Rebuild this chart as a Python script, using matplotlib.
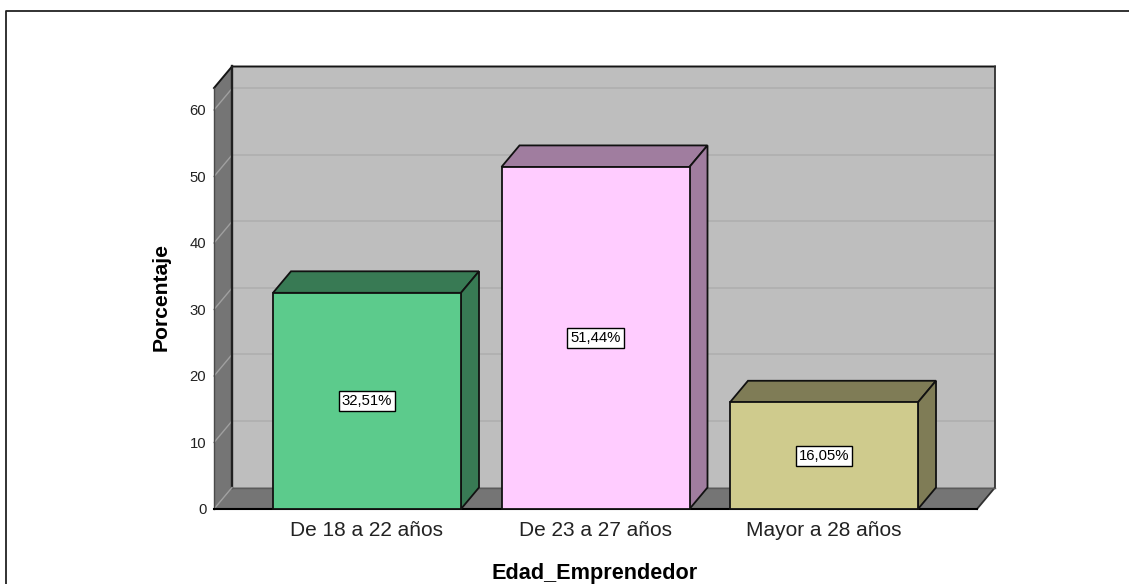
import matplotlib
matplotlib.use("Agg")
import matplotlib.pyplot as plt
from matplotlib.patches import Polygon, Rectangle
from matplotlib.lines import Line2D

plt.rcParams['font.family'] = ['Liberation Sans', 'DejaVu Sans']

categories = ['De 18 a 22 años', 'De 23 a 27 años', 'Mayor a 28 años']
values = [32.51, 51.44, 16.05]
value_labels = ['32,51%', '51,44%', '16,05%']
yticks = [0, 10, 20, 30, 40, 50, 60]
front_colors = ['#5CCB8C', '#FFCCFF', '#CFCB8D']
dark_colors = ['#387A54', '#A07D9F', '#7F7C56']

W, H = 1129, 584
fig = plt.figure(figsize=(W / 100, H / 100), dpi=100, facecolor='white')
L, R, T, B = 214, 977, 88, 509
ax = fig.add_axes([L / W, 1 - B / H, (R - L) / W, (B - T) / H])
px_x, px_y = 228.5, 6.65
ax.set_xlim((L - 367) / px_x, (R - 367) / px_x)
ax.set_ylim(0, (B - T) / px_y)
for s in ax.spines.values():
    s.set_visible(False)
ax.patch.set_visible(False)
x0, x1 = ax.get_xlim()
y1 = ax.get_ylim()[1]
dx, dy = 18 / px_x, 21.5 / px_y
bw = 188 / px_x
E = dict(edgecolor='#111111', linewidth=1.3, clip_on=False, joinstyle='miter')

# back wall, side wall, floor
ax.add_patch(Rectangle((x0 + dx, dy), x1 - x0, y1, facecolor='#BEBEBE', edgecolor='none', clip_on=False, zorder=1))
ax.add_patch(Polygon([(x0, 0), (x0 + dx, dy), (x0 + dx, y1 + dy), (x0, y1)], facecolor='#757575', edgecolor='none', clip_on=False, zorder=1))
ax.add_patch(Polygon([(x0, 0), (x1, 0), (x1 + dx, dy), (x0 + dx, dy)], facecolor='#757575', edgecolor='none', clip_on=False, zorder=1))

# gridlines
for t in yticks[1:]:
    ax.plot([x0 + dx, x1 + dx], [t + dy, t + dy], color='#B0B0B0', lw=1.3, clip_on=False, zorder=2, solid_capstyle='butt')
    ax.plot([x0, x0 + dx], [t, t + dy], color='#A0A0A0', lw=1.0, clip_on=False, zorder=2)

# frame edges
ax.plot([x0, x0 + dx, x1 + dx], [y1, y1 + dy, y1 + dy], color='#151515', lw=1.4, clip_on=False, zorder=3)
ax.plot([x1 + dx, x1 + dx, x1], [y1 + dy, dy, 0], color='#303030', lw=1.3, clip_on=False, zorder=3)
ax.plot([x0 + dx, x0 + dx], [y1 + dy, dy], color='#202020', lw=1.7, clip_on=False, zorder=3)
ax.plot([x0 + dx, x1 + dx], [dy, dy], color='#5A5A5A', lw=1.0, clip_on=False, zorder=3)
ax.plot([x0, x0 + dx], [0, dy], color='#A0A0A0', lw=1.0, clip_on=False, zorder=3)
ax.plot([x0, x0], [0, y1], color='#4A4A4A', lw=1.0, clip_on=False, zorder=3)
ax.plot([x0, x1], [0, 0], color='black', lw=1.5, clip_on=False, zorder=3)

# bars
for i, (v, fc, dc, lab) in enumerate(zip(values, front_colors, dark_colors, value_labels)):
    l, r = i - bw / 2, i + bw / 2
    ax.add_patch(Polygon([(l, v), (r, v), (r + dx, v + dy), (l + dx, v + dy)], facecolor=dc, zorder=4, **E))
    ax.add_patch(Polygon([(r, 0), (r + dx, dy), (r + dx, v + dy), (r, v)], facecolor=dc, zorder=4, **E))
    ax.add_patch(Rectangle((l, 0), bw, v, facecolor=fc, zorder=5, **E))
    ax.text(i, v / 2, lab, ha='center', va='center', fontsize=10.7, color='black', zorder=6,
            bbox=dict(boxstyle='square,pad=0.2', facecolor='white', edgecolor='black', linewidth=1.0))

ax.set_xticks(range(len(categories)), categories)
ax.set_yticks(yticks)
ax.tick_params(axis='x', length=0, pad=9, labelsize=15, labelcolor='#222222')
ax.tick_params(axis='y', length=0, pad=5.5, labelsize=10.7, labelcolor='#222222')
fig.text(595 / W, 1 - 574 / H, 'Edad_Emprendedor', ha='center', va='center', fontsize=15.6, fontweight='bold', color='black')
fig.text(161 / W, 1 - 297 / H, 'Porcentaje', ha='center', va='center', rotation=90, fontsize=15.2, fontweight='bold', color='black')

# outer frame
fig.add_artist(Line2D([6 / W, 6 / W, 1129 / W], [0, 1 - 11 / H, 1 - 11 / H], transform=fig.transFigure, color='#222222', lw=1.3))

fig.savefig('out.png', dpi=100, facecolor='white')
